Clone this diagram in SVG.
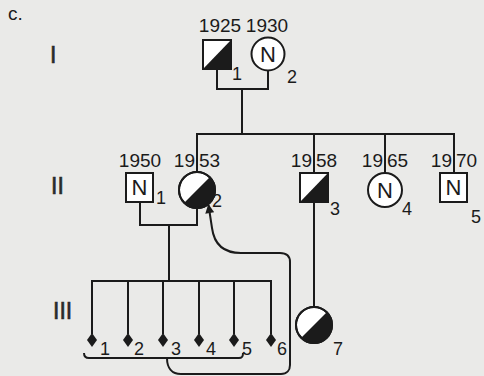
<svg xmlns="http://www.w3.org/2000/svg" width="484" height="376" viewBox="0 0 484 376">
<defs>
<style>
.ln{fill:none;stroke:#1b1b1b;stroke-width:2}
.sym{fill:#fff;stroke:#1b1b1b;stroke-width:2}
.blk{fill:#1b1b1b;stroke:none}
.t{font-family:"Liberation Sans",Arial,sans-serif;font-size:18px;fill:#1b1b1b}
.yr{font-family:"Liberation Sans",Arial,sans-serif;font-size:19px;fill:#1b1b1b}
.n{font-family:"Liberation Sans",Arial,sans-serif;font-size:22px;fill:#1b1b1b;text-anchor:middle}
.g{font-family:"Liberation Sans",Arial,sans-serif;font-size:23px;fill:#2a2a2a;stroke:#2a2a2a;stroke-width:0.6}
</style>
<marker id="arr" viewBox="0 0 10 10" refX="9" refY="5" markerWidth="10" markerHeight="9" markerUnits="userSpaceOnUse" orient="auto">
<path d="M0,0 L10,5 L0,10 Z" fill="#1b1b1b"/>
</marker>
</defs>
<rect width="484" height="376" fill="#eaeae8"/>

<text class="t" x="8" y="20" style="font-size:19px">c.</text>
<text class="g" x="50" y="63">I</text>
<text class="g" x="51" y="194">II</text>
<text class="g" x="53" y="319">III</text>

<g id="connectors">
<path class="ln" d="M217,69 V89 H268 V71"/>
<path class="ln" d="M242,89 V134"/>
<path class="ln" d="M197,172 V134 H454 V173"/>
<path class="ln" d="M314,134 V173"/>
<path class="ln" d="M385,134 V173"/>
<path class="ln" d="M140,202 V225 H197 V208"/>
<path class="ln" d="M169,225 V281"/>
<path class="ln" d="M92,334 V281 H271 V334"/>
<path class="ln" d="M128,281 V334 M163,281 V334 M199,281 V334 M234,281 V334"/>
<path class="ln" d="M314,202 V307"/>
<path class="ln" d="M84,353 C84,357 86,358 89,358 L239,358 C242,358 243,357 243,353"/>
<path class="ln" d="M167,358 C167,368 172,374 181,374 L281,374 C287,374 290,370 290,365 L290,262 C290,256 286,253 280,253 L241,253 C222,253 214,243 212,228 L208.5,205" marker-end="url(#arr)"/>
</g>

<g id="I-1">
<rect class="sym" x="203" y="40" width="28" height="29"/>
<path class="blk" d="M203,69 L231,40 L231,69 Z"/>
<rect class="ln" x="203" y="40" width="28" height="29"/>
<text class="yr" x="220" y="32" text-anchor="middle">1925</text>
<text class="t" x="232" y="80">1</text>
</g>

<g id="I-2">
<circle class="sym" cx="268" cy="54" r="16.5"/>
<text class="n" x="268" y="62">N</text>
<text class="yr" x="267" y="32" text-anchor="middle">1930</text>
<text class="t" x="287" y="83">2</text>
</g>

<g id="II-1">
<rect class="sym" x="126" y="173" width="27" height="29"/>
<text class="n" x="139.5" y="195">N</text>
<text class="yr" x="140" y="167" text-anchor="middle">1950</text>
<text class="t" x="156" y="204">1</text>
</g>

<g id="II-2">
<circle class="sym" cx="197" cy="190" r="18"/>
<path class="blk" d="M184.27,202.73 A18,18 0 0 0 209.73,177.27 Z"/>
<circle class="ln" cx="197" cy="190" r="18"/>
<text class="yr" x="195" y="167" text-anchor="end">19</text>
<text class="yr" x="199" y="167">53</text>
<text class="t" x="212" y="207">2</text>
</g>

<g id="II-3">
<rect class="sym" x="300" y="173" width="28" height="29"/>
<path class="blk" d="M300,202 L328,173 L328,202 Z"/>
<rect class="ln" x="300" y="173" width="28" height="29"/>
<text class="yr" x="312" y="167" text-anchor="end">19</text>
<text class="yr" x="316" y="167">58</text>
<text class="t" x="330" y="215">3</text>
</g>

<g id="II-4">
<circle class="sym" cx="385" cy="190" r="17"/>
<text class="n" x="385" y="198">N</text>
<text class="yr" x="383" y="167" text-anchor="end">19</text>
<text class="yr" x="387" y="167">65</text>
<text class="t" x="402" y="215">4</text>
</g>

<g id="II-5">
<rect class="sym" x="440" y="173" width="27" height="29"/>
<text class="n" x="453.5" y="195">N</text>
<text class="yr" x="452" y="167" text-anchor="end">19</text>
<text class="yr" x="456" y="167">70</text>
<text class="t" x="471" y="223">5</text>
</g>

<g id="III-1"><path class="blk" d="M92,333 L97,340 L92,347 L87,340 Z"/><text class="t" x="100" y="355">1</text></g>
<g id="III-2"><path class="blk" d="M128,333 L133,340 L128,347 L123,340 Z"/><text class="t" x="134" y="355">2</text></g>
<g id="III-3"><path class="blk" d="M163,333 L168,340 L163,347 L158,340 Z"/><text class="t" x="171" y="355">3</text></g>
<g id="III-4"><path class="blk" d="M199,333 L204,340 L199,347 L194,340 Z"/><text class="t" x="206" y="355">4</text></g>
<g id="III-5"><path class="blk" d="M234,333 L239,340 L234,347 L229,340 Z"/><text class="t" x="242" y="355">5</text></g>
<g id="III-6"><path class="blk" d="M271,333 L276,340 L271,347 L266,340 Z"/><text class="t" x="277" y="355">6</text></g>

<g id="III-7">
<circle class="sym" cx="314" cy="325" r="18"/>
<path class="blk" d="M301.27,337.73 A18,18 0 0 0 326.73,312.27 Z"/>
<circle class="ln" cx="314" cy="325" r="18"/>
<text class="t" x="333" y="355">7</text>
</g>
</svg>
